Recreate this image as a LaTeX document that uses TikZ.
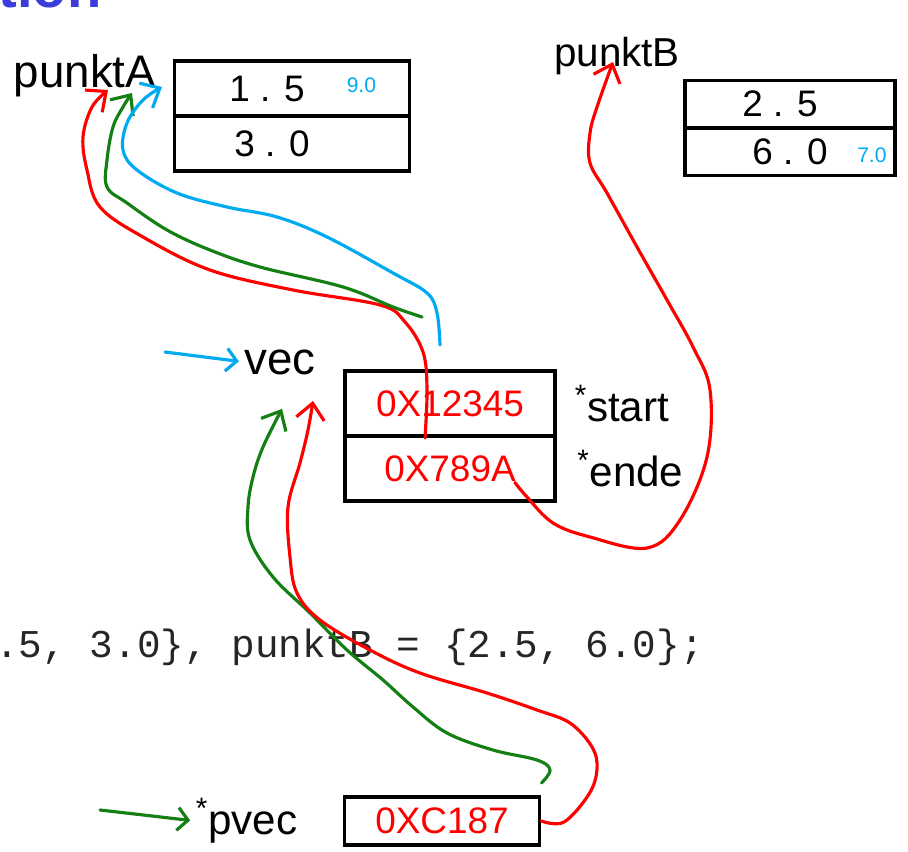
\documentclass[tikz,border=0pt]{standalone}
\usepackage{fontspec}
\newfontfamily\hwfont{Liberation Sans}
\newfontfamily\codefont{Liberation Mono}
\usepackage{tikz}
\usetikzlibrary{matrix,arrows.meta,positioning,calc}

\definecolor{penred}{RGB}{255,0,0}
\definecolor{pengreen}{RGB}{20,128,20}
\definecolor{penblue}{RGB}{0,170,240}
\definecolor{titleblue}{RGB}{60,60,220}
\newcommand\hwsize[1]{\fontsize{#1}{#1}\selectfont}

\begin{document}
\begin{tikzpicture}[x=0.02cm, y=-0.02cm,
    hand/.style={inner sep=0pt, font=\hwfont\hwsize{24}},
    cell/.style={draw, line width=2.2pt, inner sep=0pt, font=\hwfont\hwsize{21}},
    note/.style={inner sep=0pt, text=penblue, font=\hwfont\hwsize{12}},
    pen/.style={line width=1.8pt, line cap=round, line join=round},
    head/.style={-{Straight Barb[length=9pt,width=16pt]}},
    smallhead/.style={-{Straight Barb[length=6pt,width=13pt]}}]
  \useasboundingbox (0,0) rectangle (908,851);

  % slide title, cut by the page edge
  \node[anchor=base west, inner sep=0pt, text=titleblue, font=\hwfont\bfseries\hwsize{32}] (title) at (-2,8) {tion};

  % the two points
  \node[hand, anchor=south, font=\hwfont\hwsize{26}] (pA) at (85,97) {punktA};
  \matrix (A) at (292,116) [matrix of nodes, row sep=-2.2pt,
    nodes={cell, minimum width=4.7cm, minimum height=1.1cm}]
  {
    1 . 5\hspace*{1cm} \\
    3 . 0\hspace*{0.8cm} \\
  };
  \node[note] at ($(A-1-1.east)+(-50,-3)$) {9.0};

  \node[hand, anchor=south, font=\hwfont\hwsize{23}] (pB) at (617,75) {punktB};
  \matrix (B) at (790,128) [matrix of nodes, row sep=-2.2pt,
    nodes={cell, minimum width=4.2cm, minimum height=0.95cm}]
  {
    2 . 5\hspace*{0.4cm} \\
    6 . 0 \\
  };
  \node[note] at ($(B-2-1.east)+(-25,3)$) {7.0};

  % the vector with its two pointers
  \node[hand, font=\hwfont\hwsize{26}] (vec) at (280,362) {vec};
  \coordinate (vin) at (165,352);
  \draw[pen, penblue, smallhead, shorten >=3pt] (vin) -- (vec.west);

  \matrix (V) at (450,436) [matrix of nodes, row sep=-2.2pt,
    nodes={cell, text=penred, minimum width=4.2cm, minimum height=1.3cm}]
  {
    0X12345 \\
    0X789A \\
  };
  \node[hand, right=0.35cm of V-1-1] (start) {\textsuperscript{*}start};
  \node[hand, right=0.4cm of V-2-1] (ende) {\textsuperscript{*}ende};

  % code line
  \node[anchor=base west, inner sep=0pt, text=black!85, font=\codefont\hwsize{22.4}] (code) at (-5,657) {.5, 3.0\}, punktB = \{2.5, 6.0\};};

  % pointer to the vector
  \node[cell, text=penred, minimum width=3.9cm, minimum height=0.96cm] (P) at (442,821) {0XC187};
  \node[hand, left=0.9cm of P] (pvec) {\textsuperscript{*}pvec};
  \coordinate (pin) at (100,810);
  \draw[pen, pengreen, smallhead, shorten >=3pt] (pin) -- (pvec.west);

  % ends of the hand drawn arrows
  \coordinate (tipAr) at ($(pA.south)+(23,-7)$);
  \coordinate (tipAg) at ($(pA.south)+(47,-4)$);
  \coordinate (tipAb) at ($(pA.south)+(77,-10)$);
  \coordinate (tipB) at ($(pB.south)+(-4,-13)$);
  \coordinate (tipVg) at ($(vec.south)+(2,34)$);
  \coordinate (tipVr) at ($(vec.south)+(33,26)$);
  \coordinate (r1) at ($(V-1-1.south)+(-25,0)$);
  \coordinate (r2) at ($(V-2-1.east)+(-42,14)$);
  \coordinate (gfree) at (422,317);
  \coordinate (bfree) at (440,345);
  \coordinate (gpvec) at ($(P.north east)+(0,-12)$);

  \draw[pen, penred, head] plot[smooth, tension=0.6] coordinates {(r1) (427,389) (423,352) (405,322) (380,305) (293,290) (210,270) (143,237) (100,207) (87,170) (83,137) (92,107) (tipAr)};
  \draw[pen, pengreen, head] plot[smooth, tension=0.6] coordinates {(gfree) (393,307) (343,287) (260,267) (210,250) (167,230) (127,203) (107,187) (107,160) (113,127) (123,107) (tipAg)};
  \draw[pen, penblue, head] plot[smooth, tension=0.6] coordinates {(bfree) (437,313) (427,293) (393,273) (327,237) (277,217) (227,207) (177,193) (137,170) (123,150) (127,123) (143,100) (tipAb)};
  \draw[pen, penred, head] plot[smooth, tension=0.6] coordinates {(r2) (527,497) (553,523) (590,537) (647,548) (680,520) (707,457) (710,390) (693,347) (667,300) (637,247) (607,193) (590,163) (590,133) (597,107) (tipB)};
  \draw[pen, pengreen, head] plot[smooth, tension=0.6] coordinates {(gpvec) (550,770) (537,760) (493,750) (447,733) (413,707) (383,680) (347,650) (310,613) (273,577) (250,540) (248,507) (253,477) (263,447) (tipVg)};
  \draw[pen, penred, head] plot[smooth, tension=0.6] coordinates {(P.east) (564,822) (589,794) (597,769) (592,747) (570,723) (537,710) (487,693) (420,673) (370,650) (320,620) (297,593) (290,557) (288,507) (300,463) (308,430) (tipVr)};
\end{tikzpicture}
\end{document}
